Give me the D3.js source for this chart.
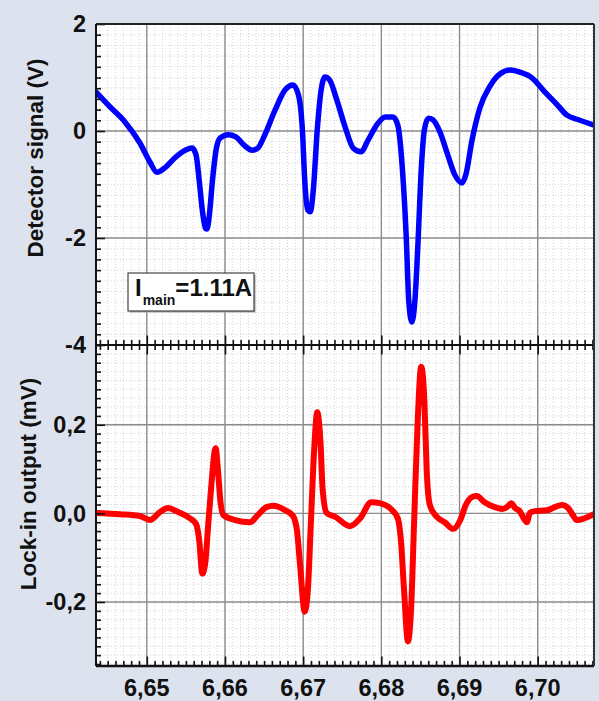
<!DOCTYPE html>
<html><head><meta charset="utf-8">
<script src="https://cdn.jsdelivr.net/npm/d3@7"></script>
<style>
body{margin:0;background:#dde3ee;}
svg{display:block;}
text{font-family:"Liberation Sans",Arial,sans-serif;font-weight:bold;fill:#111;}
</style></head><body>
<svg id="c" width="599" height="701"></svg>
<script>
// ---- data ----
const xTicks = [6.65, 6.66, 6.67, 6.68, 6.69, 6.70];
const xTickLabels = ["6,65", "6,66", "6,67", "6,68", "6,69", "6,70"];
const topTicks = [-4, -2, 0, 2];
const topTickLabels = ["-4", "-2", "0", "2"];
const botTicks = [-0.2, 0, 0.2];
const botTickLabels = ["-0,2", "0,0", "0,2"];
const topTitle = "Detector signal (V)";
const botTitle = "Lock-in output (mV)";

const detX = [6.6435,6.6453,6.6472,6.6491,6.6504,6.6513,6.6523,6.6536,6.6549,6.6558,6.6563,6.6567,6.6571,6.6575,6.6577,6.6580,6.6584,6.6589,6.6594,6.6604,6.6614,6.6624,6.6635,6.6642,6.6651,6.6664,6.6677,6.6687,6.6694,6.6699,6.6702,6.6706,6.6709,6.6713,6.6718,6.6723,6.6728,6.6734,6.6743,6.6754,6.6764,6.6774,6.6783,6.6795,6.6805,6.6815,6.6821,6.6827,6.6832,6.6835,6.6839,6.6843,6.6847,6.6851,6.6855,6.6860,6.6866,6.6875,6.6885,6.6894,6.6903,6.6908,6.6916,6.6926,6.6939,6.6952,6.6965,6.6977,6.6993,6.7009,6.7025,6.7037,6.7052,6.7072];
const detY = [0.73,0.45,0.17,-0.22,-0.58,-0.77,-0.69,-0.50,-0.36,-0.32,-0.45,-0.92,-1.48,-1.82,-1.83,-1.57,-0.92,-0.32,-0.13,-0.07,-0.11,-0.26,-0.36,-0.32,-0.07,0.39,0.77,0.86,0.67,0.02,-0.92,-1.48,-1.51,-1.10,0.02,0.77,1.01,0.95,0.58,0.06,-0.32,-0.39,-0.17,0.13,0.26,0.26,0.11,-0.73,-2.04,-3.16,-3.57,-3.16,-2.04,-0.73,0.02,0.24,0.21,-0.02,-0.45,-0.82,-0.97,-0.82,-0.17,0.43,0.84,1.07,1.14,1.10,0.99,0.73,0.49,0.30,0.21,0.11];

const lockX = [6.6435,6.6466,6.6491,6.6504,6.6517,6.6527,6.6540,6.6555,6.6563,6.6567,6.6571,6.6575,6.6578,6.6582,6.6588,6.6591,6.6594,6.6598,6.6613,6.6632,6.6642,6.6653,6.6662,6.6677,6.6687,6.6692,6.6696,6.6702,6.6706,6.6710,6.6714,6.6718,6.6722,6.6725,6.6730,6.6741,6.6760,6.6773,6.6787,6.6798,6.6814,6.6821,6.6825,6.6829,6.6834,6.6838,6.6842,6.6846,6.6851,6.6855,6.6858,6.6862,6.6871,6.6881,6.6892,6.6901,6.6908,6.6916,6.6922,6.6932,6.6945,6.6955,6.6962,6.6966,6.6971,6.6977,6.6982,6.6986,6.6990,6.6996,6.7012,6.7022,6.7031,6.7039,6.7045,6.7050,6.7060,6.7072];
const lockY = [0.001,-0.002,-0.006,-0.015,0.003,0.012,0.003,-0.011,-0.024,-0.060,-0.136,-0.109,-0.038,0.052,0.147,0.097,0.030,-0.004,-0.015,-0.020,-0.004,0.014,0.017,0.007,-0.006,-0.038,-0.116,-0.222,-0.172,-0.015,0.142,0.228,0.165,0.052,0.001,-0.008,-0.029,-0.011,0.025,0.023,0.007,-0.011,-0.060,-0.172,-0.289,-0.217,-0.015,0.187,0.331,0.255,0.097,0.019,-0.008,-0.020,-0.035,-0.015,0.019,0.037,0.039,0.025,0.014,0.010,0.016,0.023,0.012,0.005,-0.011,-0.020,0.001,0.005,0.007,0.014,0.019,0.012,-0.004,-0.015,-0.011,-0.002];

// ---- layout ----
const L = 96, R = 594, T = 24, M = 345, B = 666;
const svg = d3.select("#c");

const x = d3.scaleLinear().domain([6.6435, 6.7072]).range([L, R]);
const yTop = d3.scaleLinear().domain([-4, 2]).range([M, T]);
const yBot = d3.scaleLinear().domain([-0.3445, 0.38]).range([B, M]);

svg.append("rect").attr("x", L).attr("y", T).attr("width", R - L).attr("height", B - T).attr("fill", "#fff");

const xMinor = d3.range(6.644, 6.7075, 0.001).map(v => +v.toFixed(3));
const topMinor = d3.range(-4, 2.001, 0.2).map(v => +v.toFixed(2));
const botMinor = d3.range(-0.34, 0.381, 0.02).map(v => +v.toFixed(2));

const grid = svg.append("g");
const minorCol = "#d4d4d4";
grid.selectAll(".vx").data(xMinor).join("line")
  .attr("x1", d => x(d)).attr("x2", d => x(d)).attr("y1", T).attr("y2", B)
  .attr("stroke", minorCol).attr("stroke-width", 1).attr("stroke-dasharray", "1,2");
grid.selectAll(".ht").data(topMinor).join("line")
  .attr("x1", L).attr("x2", R).attr("y1", d => yTop(d)).attr("y2", d => yTop(d))
  .attr("stroke", minorCol).attr("stroke-width", 1).attr("stroke-dasharray", "1,2");
grid.selectAll(".hb").data(botMinor).join("line")
  .attr("x1", L).attr("x2", R).attr("y1", d => yBot(d)).attr("y2", d => yBot(d))
  .attr("stroke", minorCol).attr("stroke-width", 1).attr("stroke-dasharray", "1,2");
grid.selectAll(".mx").data(xTicks).join("line")
  .attr("x1", d => x(d)).attr("x2", d => x(d)).attr("y1", T).attr("y2", B)
  .attr("stroke", "#8c8c8c").attr("stroke-width", 1.4);
grid.selectAll(".mt").data(topTicks).join("line")
  .attr("x1", L).attr("x2", R).attr("y1", d => yTop(d)).attr("y2", d => yTop(d))
  .attr("stroke", "#8c8c8c").attr("stroke-width", 1.4);
grid.selectAll(".mb").data(botTicks).join("line")
  .attr("x1", L).attr("x2", R).attr("y1", d => yBot(d)).attr("y2", d => yBot(d))
  .attr("stroke", "#8c8c8c").attr("stroke-width", 1.4);

svg.append("clipPath").attr("id", "clipT").append("rect").attr("x", L).attr("y", T).attr("width", R - L).attr("height", M - T);
svg.append("clipPath").attr("id", "clipB").append("rect").attr("x", L).attr("y", M).attr("width", R - L).attr("height", B - M);

const detData = detX.map((d, i) => [d, detY[i]]);
const lockData = lockX.map((d, i) => [d, lockY[i]]);

svg.append("path").attr("clip-path", "url(#clipT)")
  .attr("d", d3.line().x(d => x(d[0])).y(d => yTop(d[1])).curve(d3.curveMonotoneX)(detData))
  .attr("fill", "none").attr("stroke", "#0000ff").attr("stroke-width", 5.5)
  .attr("stroke-linejoin", "round").attr("stroke-linecap", "round");
svg.append("path").attr("clip-path", "url(#clipB)")
  .attr("d", d3.line().x(d => x(d[0])).y(d => yBot(d[1])).curve(d3.curveMonotoneX)(lockData))
  .attr("fill", "none").attr("stroke", "#ff0000").attr("stroke-width", 6)
  .attr("stroke-linejoin", "round").attr("stroke-linecap", "round");

function styleAxis(g) {
  g.select(".domain").remove();
  g.selectAll(".tick line").attr("stroke", "#111").attr("stroke-width", 1.6);
  g.selectAll("text").remove();
}
const xMajorSet = new Set(xTicks.map(v => v.toFixed(3)));
function xTickLen(g, len) {
  g.selectAll(".tick line").attr("y2", d => xMajorSet.has(d.toFixed(3)) ? len * 1.9 : len);
}
const gxb = svg.append("g").attr("transform", `translate(0,${B})`)
  .call(d3.axisBottom(x).tickValues(xMinor).tickSize(-5)).call(styleAxis);
xTickLen(gxb, -5);
const gxm1 = svg.append("g").attr("transform", `translate(0,${M})`)
  .call(d3.axisBottom(x).tickValues(xMinor).tickSize(5)).call(styleAxis);
xTickLen(gxm1, 5);
const gxm2 = svg.append("g").attr("transform", `translate(0,${M})`)
  .call(d3.axisTop(x).tickValues(xMinor).tickSize(5)).call(styleAxis);
xTickLen(gxm2, -5);

const gyt = svg.append("g").attr("transform", `translate(${L},0)`)
  .call(d3.axisLeft(yTop).tickValues(topMinor).tickSize(-5)).call(styleAxis);
gyt.selectAll(".tick line").attr("x2", d => (Math.abs(d % 2) < 1e-6) ? 9 : 5);
const gyb = svg.append("g").attr("transform", `translate(${L},0)`)
  .call(d3.axisLeft(yBot).tickValues(botMinor).tickSize(-5)).call(styleAxis);
gyb.selectAll(".tick line").attr("x2", d => (Math.abs(Math.round(d * 100) % 20) === 0) ? 9 : 5);

const frame = svg.append("g").attr("fill", "none");
frame.append("line").attr("x1", L).attr("x2", R).attr("y1", T).attr("y2", T).attr("stroke", "#222").attr("stroke-width", 2);
frame.append("line").attr("x1", L).attr("x2", R).attr("y1", M).attr("y2", M).attr("stroke", "#111").attr("stroke-width", 2);
frame.append("line").attr("x1", L).attr("x2", R).attr("y1", B).attr("y2", B).attr("stroke", "#111").attr("stroke-width", 2.5);
frame.append("line").attr("x1", L).attr("x2", L).attr("y1", T).attr("y2", B).attr("stroke", "#111").attr("stroke-width", 2);
frame.append("line").attr("x1", R).attr("x2", R).attr("y1", T).attr("y2", B).attr("stroke", "#333").attr("stroke-width", 2);

svg.selectAll(".xl").data(xTicks).join("text")
  .attr("x", d => x(d)).attr("y", 696).attr("text-anchor", "middle")
  .attr("font-size", 23.5).text((d, i) => xTickLabels[i]);
svg.selectAll(".ytl").data(topTicks).join("text")
  .attr("x", 86).attr("y", d => yTop(d)).attr("dy", "0.36em").attr("text-anchor", "end")
  .attr("font-size", 23.5).text((d, i) => topTickLabels[i]);
svg.selectAll(".ybl").data(botTicks).join("text")
  .attr("x", 86).attr("y", d => yBot(d)).attr("dy", "0.36em").attr("text-anchor", "end")
  .attr("font-size", 23.5).text((d, i) => botTickLabels[i]);

svg.append("text").attr("transform", "translate(43,158) rotate(-90)")
  .attr("text-anchor", "middle").attr("font-size", 22.5).text(topTitle);
svg.append("text").attr("transform", "translate(36,484) rotate(-90)")
  .attr("text-anchor", "middle").attr("font-size", 22.5).text(botTitle);

const lg = svg.append("g");
lg.append("rect").attr("x", 129.5).attr("y", 274.5).attr("width", 126).attr("height", 38).attr("fill", "#aaa");
lg.append("rect").attr("x", 128).attr("y", 273).attr("width", 126).attr("height", 38)
  .attr("fill", "#fff").attr("stroke", "#444").attr("stroke-width", 1.2);
const lt = lg.append("text").attr("x", 135).attr("y", 296).attr("font-size", 24);
lt.append("tspan").text("I");
lt.append("tspan").attr("font-size", 14).attr("dy", 9).attr("dx", 1).text("main");
lt.append("tspan").attr("dy", -9).text("=1.11A");
</script></body></html>
